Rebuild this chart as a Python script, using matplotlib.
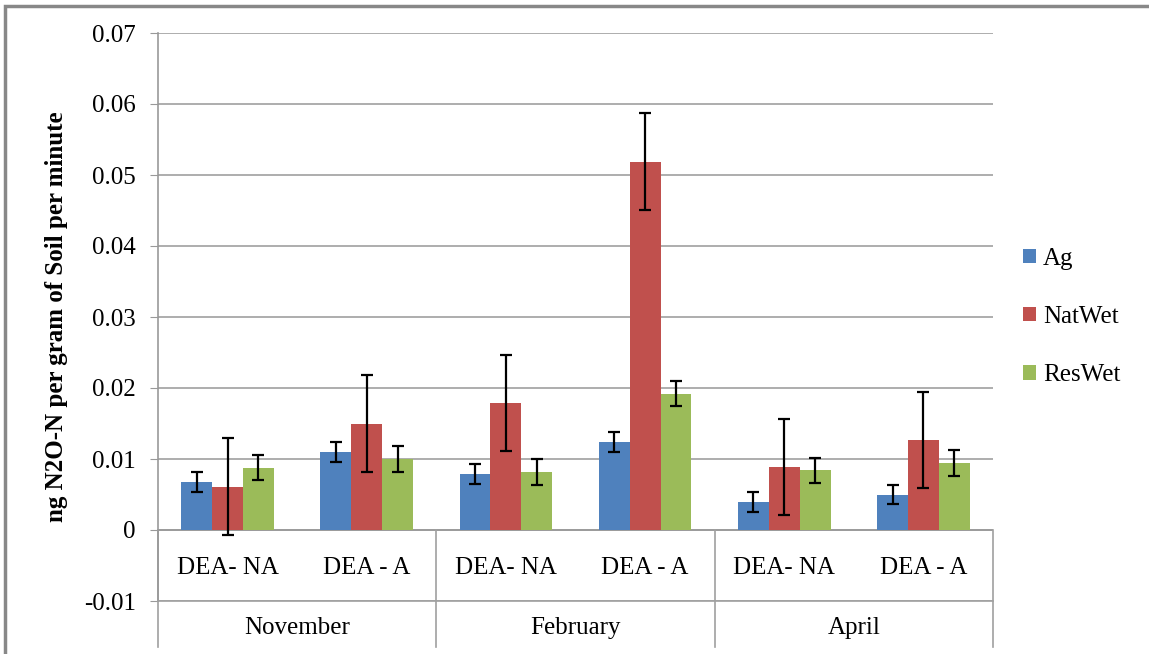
import matplotlib.pyplot as plt
import matplotlib.patches as patches
import numpy as np

months = ['November', 'February', 'April']
treatments = ['DEA- NA', 'DEA - A']
series = ['Ag', 'NatWet', 'ResWet']

ag = [0.0067, 0.0110, 0.0079, 0.0124, 0.0040, 0.0050]
natwet = [0.0061, 0.0150, 0.0179, 0.0519, 0.0089, 0.0127]
reswet = [0.0088, 0.0100, 0.0082, 0.0192, 0.0084, 0.0094]

ag_err = [0.0014] * 6
natwet_err = [0.0068] * 6
reswet_err = [0.0018] * 6

colors = ['#4F81BD', '#C0504D', '#9BBB59']

plt.rcParams['font.family'] = ['Liberation Serif', 'DejaVu Serif']

fig = plt.figure(figsize=(11.49, 6.54), dpi=100)
ax = fig.add_axes([158 / 1149, 1 - 601 / 654, (993 - 158) / 1149, (601 - 33) / 654])

x = np.arange(len(ag))
w = 0.222
for i, (vals, errs) in enumerate([(ag, ag_err), (natwet, natwet_err), (reswet, reswet_err)]):
    ax.bar(x + (i - 1) * w, vals, w, color=colors[i], label=series[i], zorder=3,
           yerr=errs, capsize=4.5,
           error_kw=dict(elinewidth=1.6, capthick=1.6, ecolor='black', zorder=4))

ax.set_xlim(-0.5, 5.5)
ax.set_ylim(-0.01, 0.07)
ax.set_yticks(np.arange(-0.01, 0.0701, 0.01))
ax.set_yticklabels(['-0.01', '0', '0.01', '0.02', '0.03', '0.04', '0.05', '0.06', '0.07'])
ax.tick_params(axis='y', labelsize=18, length=6, color='#999999', pad=10)
ax.set_xticks([])
ax.yaxis.grid(True, color='#a0a0a0', linewidth=1.2, zorder=0)
for s in ['top', 'right']:
    ax.spines[s].set_visible(False)
ax.spines['left'].set_color('#999999')
ax.spines['left'].set_linewidth(1.2)
ax.spines['bottom'].set_color('#a0a0a0')
ax.spines['bottom'].set_linewidth(1.2)
ax.axhline(0, color='#999999', linewidth=1.2, zorder=2)

# category axis boxes
for xs in [-0.5, 1.5, 3.5, 5.5]:
    ax.plot([xs, xs], [0, -0.0165], color='#a0a0a0', linewidth=1.2, clip_on=False)
for i, xi in enumerate(x):
    ax.text(xi, -0.0054, treatments[i % 2], ha='center', va='center', fontsize=18)
for j, m in enumerate(months):
    ax.text(2 * j + 0.5, -0.0138, m, ha='center', va='center', fontsize=18)

ax.set_ylabel('ng N2O-N per gram of Soil per minute', fontsize=18, fontweight='bold', labelpad=11)

ax.legend(loc='center left', bbox_to_anchor=(1.024, 0.5), frameon=False, fontsize=18,
          handlelength=0.5, handleheight=0.5, handletextpad=0.3, labelspacing=1.45,
          borderaxespad=0.0)

# outer chart frame
fig.add_artist(patches.Rectangle((5 / 1149, -0.1), 2, 1.1 - 6 / 654, transform=fig.transFigure,
                                 fill=False, edgecolor='#888888', linewidth=2.5))

plt.savefig('out.png', dpi=100)
